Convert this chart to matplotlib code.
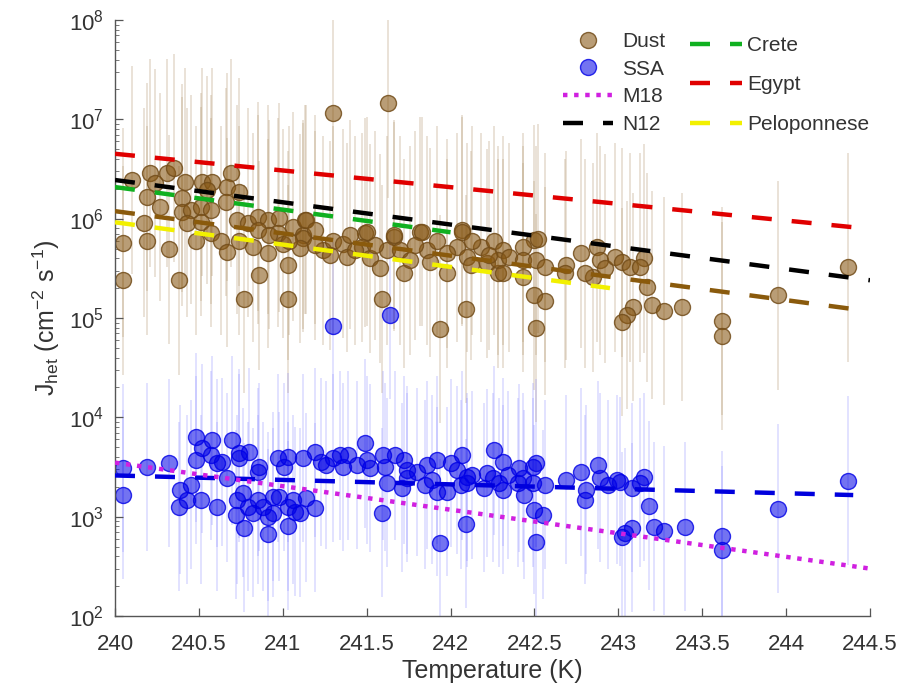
import numpy as np
import matplotlib
matplotlib.use("Agg")
import matplotlib.pyplot as plt
from matplotlib.ticker import LogLocator, NullFormatter, FixedLocator

plt.rcParams['font.family'] = ['Liberation Sans', 'DejaVu Sans']
plt.rcParams['mathtext.fontset'] = 'custom'
plt.rcParams['mathtext.rm'] = 'Liberation Sans'
plt.rcParams['mathtext.it'] = 'Liberation Sans:italic'

# ---------------- data ----------------
dust_T = [240.10, 240.21, 240.24, 240.31, 240.35, 240.42, 240.19, 240.27, 240.40, 240.40,
          240.45, 240.43, 240.17, 240.19, 240.05, 240.32, 240.05, 240.38, 240.52, 240.58,
          240.55, 240.51, 240.57, 240.51, 240.48, 240.57, 240.63, 240.69, 240.67, 240.74,
          240.66, 240.73, 240.79, 240.74, 240.67, 240.85, 240.91, 240.85, 240.91, 240.82,
          240.86, 240.77, 241.03, 241.03, 240.98, 241.06, 241.13, 241.12, 241.00, 240.97,
          241.30, 241.63, 241.59, 242.09, 241.94, 242.51, 242.50, 242.56, 241.49, 241.66,
          241.82, 242.07, 242.50, 242.78, 242.87, 242.85, 242.80, 241.14, 241.19, 241.12,
          241.24, 241.30, 241.36, 241.40, 241.38, 241.50, 241.47, 241.52, 241.58, 241.62,
          241.66, 241.70, 241.72, 241.76, 241.83, 241.86, 241.92, 241.98, 242.07, 242.04,
          242.10, 242.18, 242.22, 242.28, 241.98, 242.13, 242.26, 242.31, 242.28, 242.31,
          242.35, 242.43, 242.43, 242.43, 242.52, 242.51, 242.56, 242.69, 242.68, 242.89,
          242.92, 242.98, 243.02, 243.07, 243.15, 243.13, 243.17, 243.09, 243.05, 243.02,
          243.20, 243.27, 243.38, 243.62, 243.62, 243.95, 244.37, 241.10, 241.19, 241.28,
          241.43, 241.55, 241.79, 241.88, 242.12, 242.23, 240.92, 241.04]
dust_logJ = [6.39, 6.46, 6.36, 6.46, 6.51, 6.37, 6.22, 6.12, 6.21, 6.07,
             6.09, 5.96, 5.96, 5.78, 5.76, 5.69, 5.38, 5.38, 6.37, 6.37,
             6.29, 6.12, 6.09, 5.97, 5.78, 5.86, 5.78, 6.46, 6.32, 6.27,
             6.17, 5.99, 5.96, 5.78, 5.66, 6.02, 5.99, 5.89, 5.65, 5.71,
             5.43, 5.19, 5.53, 5.19, 6.01, 5.92, 5.99, 5.84, 5.75, 5.86,
             7.06, 7.16, 5.19, 5.09, 4.89, 4.90, 5.23, 5.17, 5.86, 5.82,
             5.87, 5.89, 5.79, 5.65, 5.71, 5.41, 5.45, 5.99, 5.89, 5.81,
             5.68, 5.78, 5.75, 5.84, 5.61, 5.87, 5.71, 5.60, 5.50, 5.68,
             5.84, 5.68, 5.45, 5.58, 5.87, 5.68, 5.78, 5.45, 5.87, 5.71,
             5.61, 5.71, 5.55, 5.45, 5.65, 5.78, 5.78, 5.68, 5.58, 5.45,
             5.61, 5.71, 5.58, 5.41, 5.80, 5.58, 5.51, 5.53, 5.45, 5.58,
             5.50, 5.61, 5.56, 5.51, 5.60, 5.51, 5.31, 5.11, 5.03, 4.96,
             5.13, 5.07, 5.11, 4.97, 4.82, 5.23, 5.51, 5.70, 5.73, 5.63,
             5.68, 5.73, 5.73, 5.56, 5.53, 5.63, 5.84, 5.78]

ssa_T = [240.05, 240.05, 240.19, 240.32, 240.39, 240.45, 240.43, 240.38, 240.51, 240.48,
         240.48, 240.52, 240.57, 240.58, 240.61, 240.64, 240.61, 240.67, 240.70, 240.74,
         240.74, 240.80, 240.85, 240.86, 240.73, 240.72, 240.76, 240.79, 240.77, 240.82,
         240.85, 240.88, 240.91, 240.91, 240.94, 240.94, 240.98, 241.03, 241.03, 240.97,
         241.03, 241.01, 241.06, 241.07, 241.10, 241.14, 241.19, 241.12, 241.19, 241.23,
         241.26, 241.30, 241.34, 241.36, 241.39, 241.44, 241.49, 241.50, 241.52, 241.60,
         241.61, 241.62, 241.59, 241.67, 241.72, 241.74, 241.71, 241.74, 241.80, 241.86,
         241.85, 241.89, 241.92, 241.92, 241.94, 241.98, 242.00, 242.04, 242.07, 242.06,
         242.10, 242.13, 242.10, 242.09, 242.22, 242.20, 242.26, 242.31, 242.25, 242.31,
         242.34, 242.29, 242.41, 242.40, 242.43, 242.44, 242.49, 242.51, 242.49, 242.50,
         242.55, 242.51, 242.56, 242.69, 242.78, 242.81, 242.80, 242.88, 242.89, 242.94,
         242.99, 243.01, 243.08, 243.15, 243.13, 243.18, 243.08, 243.04, 243.02, 243.21,
         243.27, 243.40, 243.62, 243.62, 243.95, 244.37, 241.30, 241.64]
ssa_logJ = [3.49, 3.22, 3.50, 3.54, 3.27, 3.32, 3.17, 3.10, 3.17, 3.57,
            3.80, 3.69, 3.62, 3.77, 3.54, 3.55, 3.10, 3.39, 3.77, 3.64,
            3.59, 3.65, 3.45, 3.50, 3.17, 3.02, 3.24, 3.10, 2.89, 3.04,
            3.17, 3.10, 3.00, 2.83, 3.20, 3.04, 3.20, 3.10, 2.91, 3.59,
            3.60, 3.50, 3.17, 3.05, 3.04, 3.19, 3.09, 3.59, 3.65, 3.55,
            3.52, 3.59, 3.62, 3.50, 3.62, 3.52, 3.74, 3.57, 3.49, 3.62,
            3.50, 3.34, 3.04, 3.62, 3.57, 3.47, 3.29, 3.39, 3.45, 3.52,
            3.32, 3.37, 3.57, 3.25, 2.73, 3.25, 3.54, 3.47, 3.62, 3.32,
            3.40, 3.42, 3.34, 2.93, 3.44, 3.29, 3.67, 3.55, 3.39, 3.27,
            3.42, 3.34, 3.49, 3.34, 3.39, 3.22, 3.50, 3.54, 3.34, 3.07,
            3.02, 2.74, 3.32, 3.37, 3.45, 3.27, 3.17, 3.52, 3.39, 3.32,
            3.37, 3.35, 3.29, 3.40, 3.34, 3.11, 2.89, 2.84, 2.80, 2.90,
            2.86, 2.90, 2.81, 2.66, 3.08, 3.36, 4.92, 5.03]

# error bar extent in decades (up, down)
dust_err_dec = (1.15, 0.95)
ssa_err_dec = (0.85, 0.85)

# parameterisations / fits: (T_start, T_end, J_start, J_end)
fit_lines = {
    'Dust fit': (240.0, 244.4, 1.19e6, 1.23e5),
    'Egypt': (240.0, 244.4, 4.5e6, 8.2e5),
    'N12': (240.0, 244.5, 2.45e6, 2.4e5),
    'Crete': (240.0, 242.0, 2.08e6, 7.3e5),
    'Peloponnese': (240.0, 242.95, 9.2e5, 2.0e5),
    'SSA fit': (240.0, 244.4, 2.6e3, 1.65e3),
    'M18': (240.0, 244.5, 3.5e3, 3.0e2),
}

xticks = [240, 240.5, 241, 241.5, 242, 242.5, 243, 243.5, 244, 244.5]
xtick_labels = ['240', '240.5', '241', '241.5', '242', '242.5', '243', '243.5', '244', '244.5']

# ---------------- figure ----------------
W, H = 903, 689
fig = plt.figure(figsize=(W / 100, H / 100), dpi=100)
ax = fig.add_axes([115 / W, 1 - 616 / H, (870 - 115) / W, (616 - 20) / H])

txt_col = '#333333'
dust_face = (0.53, 0.34, 0.08, 0.58)
dust_edge = (0.45, 0.30, 0.10, 0.85)
ssa_face = (0.0, 0.0, 0.9, 0.55)
ssa_edge = (0.0, 0.0, 0.9, 0.8)

dT = np.array(dust_T)
dJ = 10 ** np.array(dust_logJ)
sT = np.array(ssa_T)
sJ = 10 ** np.array(ssa_logJ)

# error bars
ax.vlines(dT, dJ / 10 ** dust_err_dec[1], dJ * 10 ** dust_err_dec[0],
          colors=[(0.72, 0.62, 0.48, 0.35)], linewidths=1.2, zorder=1)
ax.vlines(sT, sJ / 10 ** ssa_err_dec[1], sJ * 10 ** ssa_err_dec[0],
          colors=[(0.55, 0.55, 1.0, 0.3)], linewidths=1.2, zorder=1)

ms = 11.5
hd, = ax.plot(dT, dJ, 'o', ls='none', ms=ms, mfc=dust_face, mec=dust_edge, mew=1.0,
              zorder=2, label='Dust')
hs, = ax.plot(sT, sJ, 'o', ls='none', ms=ms, mfc=ssa_face, mec=ssa_edge, mew=1.0,
              zorder=2, label='SSA')

lw = 3.2
dash = (4.5, 4.5)
styles = {
    'Dust fit': dict(color='#8a5a0c', dashes=dash),
    'Egypt': dict(color='#e00000', dashes=dash),
    'N12': dict(color='#000000', dashes=dash),
    'Crete': dict(color='#10b020', dashes=dash),
    'Peloponnese': dict(color='#f2f000', dashes=dash),
    'SSA fit': dict(color='#0000dd', dashes=dash),
    'M18': dict(color='#d020e0', dashes=(1.0, 1.5)),
}
handles = {}
for name, (t0, t1, j0, j1) in fit_lines.items():
    h, = ax.plot([t0, t1], [j0, j1], lw=lw, zorder=3, label=name, **styles[name])
    handles[name] = h

ax.set_yscale('log')
ax.set_xlim(240, 244.5)
ax.set_ylim(1e2, 1e8)
ax.xaxis.set_major_locator(FixedLocator(xticks))
ax.set_xticklabels(xtick_labels)
ax.yaxis.set_major_locator(LogLocator(base=10, numticks=10))
ax.yaxis.set_minor_locator(LogLocator(base=10, subs=np.arange(2, 10), numticks=100))
ax.yaxis.set_minor_formatter(NullFormatter())

for s in ['top', 'right']:
    ax.spines[s].set_visible(False)
for s in ['left', 'bottom']:
    ax.spines[s].set_color('#555555')
    ax.spines[s].set_linewidth(1.0)
ax.tick_params(axis='both', which='major', direction='in', length=6, width=0.9,
               colors='#555555', labelcolor=txt_col, labelsize=16)
ax.tick_params(axis='x', which='major', pad=13)
ax.tick_params(axis='y', which='major', pad=8)
ax.tick_params(axis='y', which='minor', direction='in', length=3, width=0.7, colors='#777777')

ax.set_xlabel('Temperature (K)', fontsize=18, color=txt_col, labelpad=3)
ax.set_ylabel(r'J$_{\rm het}$ (cm$^{-2}$ s$^{-1}$)', fontsize=18, color=txt_col, labelpad=5)

fs = 15
leg1 = ax.legend([hd, hs, handles['M18'], handles['N12']], ['Dust', 'SSA', 'M18', 'N12'],
                 loc='upper left', bbox_to_anchor=(563 / W, 1 - 32 / H),
                 bbox_transform=fig.transFigure, frameon=False, fontsize=fs,
                 borderpad=0, borderaxespad=0, handlelength=2.4, handletextpad=0.45,
                 labelspacing=0.42, numpoints=1)
for t in leg1.get_texts():
    t.set_color(txt_col)
ax.add_artist(leg1)
leg2 = ax.legend([handles['Crete'], handles['Egypt'], handles['Peloponnese']],
                 ['Crete', 'Egypt', 'Peloponnese'],
                 loc='upper left', bbox_to_anchor=(690 / W, 1 - 36 / H),
                 bbox_transform=fig.transFigure, frameon=False, fontsize=fs,
                 borderpad=0, borderaxespad=0, handlelength=2.5, handletextpad=0.25,
                 labelspacing=0.98)
for t in leg2.get_texts():
    t.set_color(txt_col)

fig.savefig('out.png', dpi=100)
